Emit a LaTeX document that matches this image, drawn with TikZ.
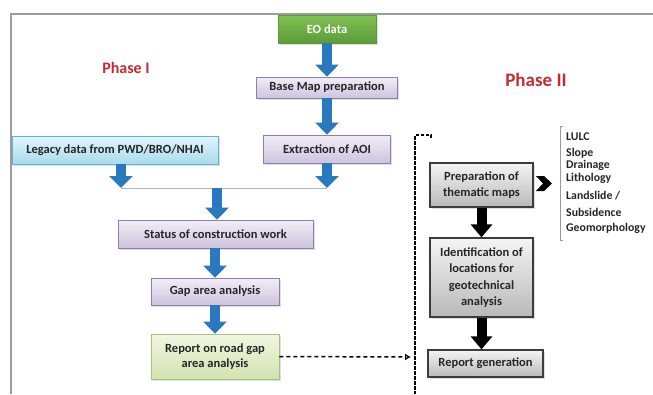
\documentclass[tikz,border=0pt]{standalone}
\usepackage{fontspec}
\setmainfont{Carlito}
\usetikzlibrary{arrows.meta,shadows}
\definecolor{txt}{HTML}{262626}
\definecolor{framegray}{HTML}{9C9C9C}
\definecolor{phasered}{HTML}{C62A32}
\definecolor{arrowblue}{HTML}{2A78BE}
\definecolor{purpletop}{HTML}{F2EEF7}
\definecolor{purplebot}{HTML}{CEC3DE}
\definecolor{purpleedge}{HTML}{8E7FAA}
\definecolor{bluetop}{HTML}{E2F5FB}
\definecolor{bluebot}{HTML}{A8DCEC}
\definecolor{blueedge}{HTML}{5CB6D6}
\definecolor{lgtop}{HTML}{F1F6E2}
\definecolor{lgbot}{HTML}{D3E3AE}
\definecolor{lgedge}{HTML}{A9C07C}
\definecolor{greentop}{HTML}{7FC253}
\definecolor{greenbot}{HTML}{5C9C36}
\definecolor{graytop}{HTML}{F4F4F4}
\definecolor{graybot}{HTML}{B9B9B9}
\definecolor{grayedge}{HTML}{3C3C3C}
\begin{document}
\begin{tikzpicture}[x=1pt,y=-1pt,
  every node/.style={font=\bfseries\fontsize{12.5}{15.5}\selectfont, text=txt, inner sep=0pt, align=center},
  shadowed/.style={drop shadow={opacity=0.25,shadow xshift=1.5pt,shadow yshift=-1.5pt}},
  pbox/.style={draw=purpleedge, line width=0.8pt, top color=purpletop, bottom color=purplebot, shadowed},
  bluebox/.style={draw=blueedge, line width=0.8pt, top color=bluetop, bottom color=bluebot, shadowed},
  lgbox/.style={draw=lgedge, line width=0.8pt, top color=lgtop, bottom color=lgbot, shadowed},
  greenbox/.style={draw=greenbot, line width=0.6pt, top color=greentop, bottom color=greenbot, text=white, shadowed},
  gbox/.style={draw=grayedge, line width=1.2pt, top color=graytop, bottom color=graybot, shadowed, font=\bfseries\fontsize{12.5}{16.5}\selectfont},
  phase/.style={text=phasered},
  lab/.style={anchor=west, font=\bfseries\fontsize{11.8}{13}\selectfont},
  blockarrow/.style={line width=9.5pt, draw=arrowblue, -{Triangle[width=23pt,length=12pt]}},
  darrow/.style={line width=10pt, draw=black, -{Triangle[width=21pt,length=13pt]}},
  connector/.style={draw=gray!60, line width=1pt},
  dasharrow/.style={draw=black, line width=1.5pt, dash pattern=on 4pt off 3pt, -{Latex[open,length=6pt,width=7pt]}},
  dashline/.style={draw=black, line width=2.3pt, dash pattern=on 3.5pt off 1.5pt},
  bracketline/.style={draw=gray!80, line width=0.8pt},
]
\useasboundingbox (0,0) rectangle (653,394);
\fill[white] (0,0) rectangle (653,394);
% frame
\draw[framegray, line width=1.6pt] (11,394) -- (11,14) -- (653,14);

% phase labels
\node[phase, font=\bfseries\fontsize{16}{18}\selectfont] (p1) at (126,68) {Phase I};
\node[phase, font=\bfseries\fontsize{19}{21}\selectfont] (p2) at (536,80) {Phase II};

% phase I boxes
\node[greenbox, minimum width=98pt, minimum height=28pt] (eo) at (327,29) {EO data};
\node[pbox, minimum width=141pt, minimum height=21pt] (base) at (327,87.5) {Base Map preparation};
\node[pbox, minimum width=127pt, minimum height=28pt] (aoi) at (327,149) {Extraction of AOI};
\node[bluebox, minimum width=206pt, minimum height=28pt] (legacy) at (115,150) {Legacy data from PWD/BRO/NHAI};
\node[pbox, minimum width=195pt, minimum height=28pt] (status) at (215.5,234) {Status of construction work};
\node[pbox, minimum width=128pt, minimum height=27pt] (gap) at (215,291.5) {Gap area analysis};
\node[lgbox, minimum width=128pt, minimum height=45pt] (report) at (215,356.5) {Report on road gap\\area analysis};

% junction
\coordinate (jl) at (121,188);
\coordinate (jr) at (327,188);
\coordinate (jm) at (217,188);

\draw[blockarrow] (eo.south) -- (base.north);
\draw[blockarrow] (base.south) -- (aoi.north);
\draw[connector] (jl) -- (jr);
\draw[blockarrow] (legacy.south -| jl) -- (jl);
\draw[blockarrow] (aoi.south) -- (jr);
\draw[blockarrow] (jm) -- (status.north -| jm);
\draw[blockarrow] (status.south -| gap.north) -- (gap.north);
\draw[blockarrow] (gap.south) -- (report.north);

% phase II
\node[gbox, minimum width=103pt, minimum height=44pt] (prep) at (481.5,185) {Preparation of\\thematic maps};
\node[gbox, minimum width=103pt, minimum height=79pt] (ident) at (481.5,277.5) {Identification of\\locations for\\geotechnical\\analysis};
\node[gbox, minimum width=115pt, minimum height=27pt] (repgen) at (485.5,363.5) {Report generation};

\draw[darrow] (prep.south) -- (ident.north);
\draw[darrow] (ident.south) -- (repgen.north -| ident.south);

% dashed separator and link
\coordinate (dstub) at (431,138);
\coordinate (dtop) at (415,135);
\coordinate (dbot) at (415,394);
\draw[dashline] (dstub) |- (dtop) -- (dbot);
\coordinate (din) at (411,357);
\draw[dasharrow] (report.east) -- (din);

% chevron
\fill[black] (536,176) -- (544,176) -- (552,183.5) -- (544,191) -- (536,191) -- (543,183.5) -- cycle;

% bracket and list
\draw[bracketline] (563,126) -- (560,126) -- (560,240) -- (563,240);
\node[lab] (l1) at (566,137) {LULC};
\node[lab] (l2) at (566,153) {Slope};
\node[lab] (l3) at (566,165.5) {Drainage};
\node[lab] (l4) at (566,178.5) {Lithology};
\node[lab] (l5) at (566,195.5) {Landslide /};
\node[lab] (l6) at (566,212) {Subsidence};
\node[lab] (l7) at (566,228.5) {Geomorphology};
\end{tikzpicture}
\end{document}
